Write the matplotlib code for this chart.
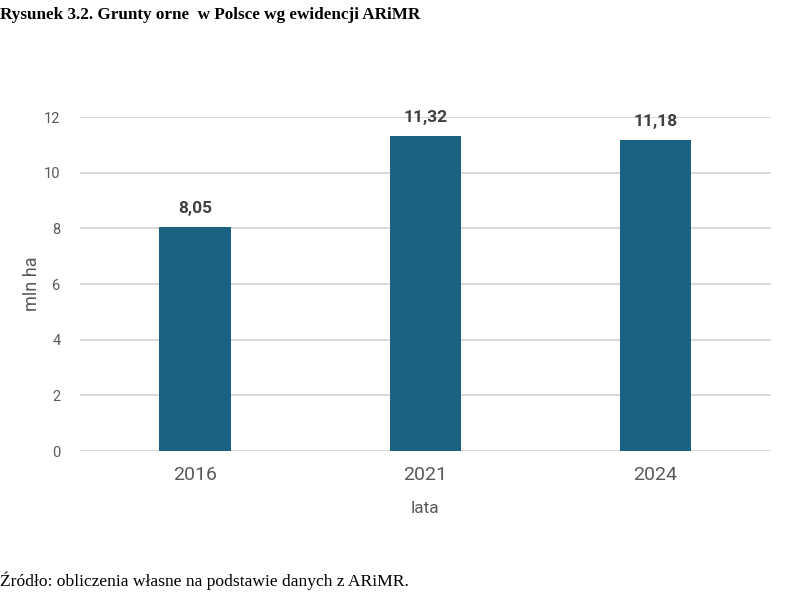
import matplotlib.pyplot as plt

years = ['2016', '2021', '2024']
values = [8.05, 11.32, 11.18]
value_labels = ['8,05', '11,32', '11,18']
y_ticks = [0, 2, 4, 6, 8, 10, 12]

fig = plt.figure(figsize=(8.03, 6.05), dpi=100)
ax = fig.add_axes([0.0996, 0.2545, 0.860, 0.552])

x = list(range(len(years)))
ax.bar(x, values, width=0.31, color='#1b6282', zorder=3)

for xi, v, lab in zip(x, values, value_labels):
    ax.annotate(lab, (xi, v), xytext=(0, 8), textcoords='offset points',
                ha='center', va='bottom', fontsize=12.5, fontweight='bold',
                color='#404040', family='Roboto')

ax.set_xlim(-0.5, 2.5)
ax.set_ylim(0, 12)
ax.set_yticks(y_ticks)
ax.set_yticklabels([str(t) for t in y_ticks], family='Roboto', fontsize=10.5, color='#595959')
ax.set_xticks(x)
ax.set_xticklabels(years, family='Roboto', fontsize=14, color='#595959')
ax.tick_params(length=0)
ax.tick_params(axis='y', pad=14)
ax.tick_params(axis='x', pad=11)
ax.grid(axis='y', color='#d9d9d9', linewidth=1.5, zorder=0)
for s in ax.spines.values():
    s.set_visible(False)

ax.set_xlabel('lata', family='Roboto', fontsize=12.5, color='#595959', labelpad=12)
ax.set_ylabel('mln ha', family='Roboto', fontsize=13, color='#595959', labelpad=2)

fig.text(0.0, 0.975, 'Rysunek 3.2. Grunty orne  w Polsce wg ewidencji ARiMR',
         family='Liberation Serif', fontweight='bold', fontsize=12.3, va='center', ha='left')
fig.text(0.0, 0.04, 'Źródło: obliczenia własne na podstawie danych z ARiMR.',
         family='Liberation Serif', fontsize=12.6, va='center', ha='left')

plt.savefig('out.png', dpi=100)
